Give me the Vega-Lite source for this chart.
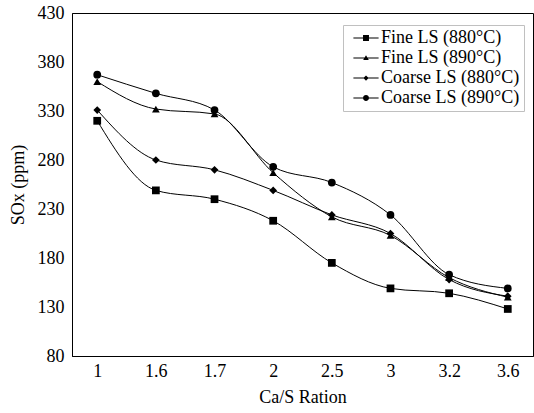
{
  "$schema": "https://vega.github.io/schema/vega-lite/v6.json",
  "width": 461,
  "height": 343,
  "autosize": {"type": "none"},
  "padding": {"left": 72, "top": 13, "right": 1, "bottom": 57},
  "background": "white",
  "config": {
    "font": "Liberation Serif",
    "view": {"stroke": "black", "strokeWidth": 1},
    "axis": {"grid": false, "domainColor": "black", "labelColor": "black", "titleColor": "black", "labelFont": "Liberation Serif", "titleFont": "Liberation Serif", "titleFontWeight": "normal"},
    "legend": {"labelFont": "Liberation Serif"}
  },
  "data": {
    "values": [
      {"ratio": "1", "series": "Fine LS (880°C)", "sox": 320},
      {"ratio": "1.6", "series": "Fine LS (880°C)", "sox": 249},
      {"ratio": "1.7", "series": "Fine LS (880°C)", "sox": 240},
      {"ratio": "2", "series": "Fine LS (880°C)", "sox": 218},
      {"ratio": "2.5", "series": "Fine LS (880°C)", "sox": 175},
      {"ratio": "3", "series": "Fine LS (880°C)", "sox": 149},
      {"ratio": "3.2", "series": "Fine LS (880°C)", "sox": 144},
      {"ratio": "3.6", "series": "Fine LS (880°C)", "sox": 128},
      {"ratio": "1", "series": "Fine LS (890°C)", "sox": 360},
      {"ratio": "1.6", "series": "Fine LS (890°C)", "sox": 332},
      {"ratio": "1.7", "series": "Fine LS (890°C)", "sox": 327},
      {"ratio": "2", "series": "Fine LS (890°C)", "sox": 267},
      {"ratio": "2.5", "series": "Fine LS (890°C)", "sox": 222},
      {"ratio": "3", "series": "Fine LS (890°C)", "sox": 203},
      {"ratio": "3.2", "series": "Fine LS (890°C)", "sox": 160},
      {"ratio": "3.6", "series": "Fine LS (890°C)", "sox": 140},
      {"ratio": "1", "series": "Coarse LS (880°C)", "sox": 331},
      {"ratio": "1.6", "series": "Coarse LS (880°C)", "sox": 280},
      {"ratio": "1.7", "series": "Coarse LS (880°C)", "sox": 270},
      {"ratio": "2", "series": "Coarse LS (880°C)", "sox": 249},
      {"ratio": "2.5", "series": "Coarse LS (880°C)", "sox": 224},
      {"ratio": "3", "series": "Coarse LS (880°C)", "sox": 205},
      {"ratio": "3.2", "series": "Coarse LS (880°C)", "sox": 158},
      {"ratio": "3.6", "series": "Coarse LS (880°C)", "sox": 141},
      {"ratio": "1", "series": "Coarse LS (890°C)", "sox": 367},
      {"ratio": "1.6", "series": "Coarse LS (890°C)", "sox": 348},
      {"ratio": "1.7", "series": "Coarse LS (890°C)", "sox": 331},
      {"ratio": "2", "series": "Coarse LS (890°C)", "sox": 273},
      {"ratio": "2.5", "series": "Coarse LS (890°C)", "sox": 257},
      {"ratio": "3", "series": "Coarse LS (890°C)", "sox": 224},
      {"ratio": "3.2", "series": "Coarse LS (890°C)", "sox": 163},
      {"ratio": "3.6", "series": "Coarse LS (890°C)", "sox": 149}
    ]
  },
  "encoding": {
    "x": {
      "field": "ratio", "type": "ordinal",
      "sort": ["1", "1.6", "1.7", "2", "2.5", "3", "3.2", "3.6"],
      "scale": {"type": "point", "padding": 0.43},
      "axis": {"title": "Ca/S Ration", "labelAngle": 0, "labelFontSize": 18, "titleFontSize": 18, "ticks": false, "labelPadding": 6, "titlePadding": 8}
    },
    "y": {
      "field": "sox", "type": "quantitative",
      "scale": {"domain": [80, 430], "nice": false, "zero": false},
      "axis": {"title": "SOx (ppm)", "values": [80, 130, 180, 230, 280, 330, 380, 430], "labelFontSize": 18, "titleFontSize": 18, "ticks": false, "labelPadding": 8, "titlePadding": 10}
    }
  },
  "layer": [
    {
      "mark": {"type": "line", "interpolate": "monotone", "color": "black", "strokeWidth": 1},
      "encoding": {"detail": {"field": "series"}}
    },
    {
      "mark": {"type": "point", "filled": true, "color": "black", "opacity": 1, "size": 60},
      "encoding": {
        "shape": {
          "field": "series", "type": "nominal",
          "scale": {"domain": ["Fine LS (880°C)", "Fine LS (890°C)", "Coarse LS (880°C)", "Coarse LS (890°C)"], "range": ["square", "triangle-up", "diamond", "circle"]},
          "legend": null
        }
      }
    },
    {
      "mark": {"type": "point", "filled": true, "color": "black", "opacity": 0, "size": 49},
      "encoding": {
        "shape": {
          "field": "series", "type": "nominal",
          "scale": {"domain": ["Fine LS (880°C)", "Fine LS (890°C)", "Coarse LS (880°C)", "Coarse LS (890°C)"], "range": [
            "M-3.6,-0.15H3.6V0.15H-3.6ZM-0.85,-0.85H0.85V0.85H-0.85Z",
            "M-3.6,-0.15H3.6V0.15H-3.6ZM0,-0.8L0.8,0.6H-0.8Z",
            "M-3.6,-0.15H3.6V0.15H-3.6ZM0,-0.75L0.75,0L0,0.75L-0.75,0Z",
            "M-3.6,-0.15H3.6V0.15H-3.6ZM0.85,0A0.85,0.85,0,1,1,-0.85,0A0.85,0.85,0,1,1,0.85,0Z"
          ]},
          "legend": {
            "title": null, "orient": "none", "legendX": 271, "legendY": 12,
            "padding": 4, "strokeColor": "#c0c0c0",
            "labelFont": "Liberation Serif", "labelFontSize": 18, "labelColor": "black",
            "symbolSize": 49, "symbolOffset": 10, "labelOffset": 6, "rowPadding": 2,
            "symbolOpacity": 1, "symbolFillColor": "black",
            "encode": {
              "legend": {"update": {"strokeDash": {"value": [2, 3]}}},
              "symbols": {"update": {"fill": {"value": "black"}, "opacity": {"value": 1}, "fillOpacity": {"value": 1}}}
            }
          }
        }
      }
    }
  ],
  "resolve": {"scale": {"shape": "independent"}, "legend": {"shape": "independent"}}
}
